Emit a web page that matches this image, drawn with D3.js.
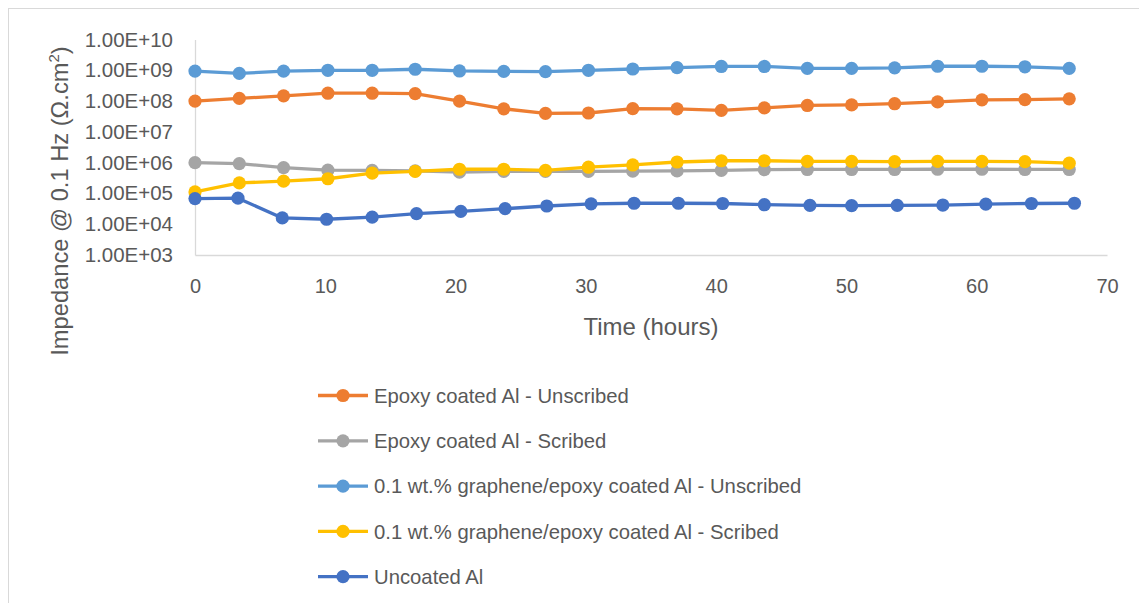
<!DOCTYPE html>
<html>
<head>
<meta charset="utf-8">
<script src="https://cdn.jsdelivr.net/npm/d3@7"></script>
<style>
  html, body { margin: 0; padding: 0; background: #ffffff; }
  svg { display: block; }
  text { font-family: "Liberation Sans", Arial, sans-serif; fill: #595959; }
</style>
</head>
<body>
<svg id="chart" width="1139" height="603"></svg>
<script>
// ---- Data ----
const seriesNames = [
  "Epoxy coated Al - Unscribed",
  "Epoxy coated Al - Scribed",
  "0.1 wt.% graphene/epoxy coated Al - Unscribed",
  "0.1 wt.% graphene/epoxy coated Al - Scribed",
  "Uncoated Al"
];
const seriesColors = ["#ED7D31", "#A5A5A5", "#5B9BD5", "#FFC000", "#4472C4"];

const timeCoated = [0, 3.4, 6.8, 10.2, 13.6, 16.9, 20.3, 23.7, 26.9, 30.2, 33.6, 37.0, 40.4, 43.7, 47.0, 50.4, 53.7, 57.0, 60.4, 63.7, 67.1];
const timeUncoated = [0, 3.3, 6.7, 10.1, 13.6, 17.0, 20.4, 23.8, 27.0, 30.4, 33.7, 37.1, 40.5, 43.7, 47.2, 50.4, 53.9, 57.4, 60.7, 64.2, 67.5];

const epoxyUnscribed = [1.0e8, 1.22e8, 1.48e8, 1.8e8, 1.8e8, 1.75e8, 1.0e8, 5.6e7, 4.0e7, 4.1e7, 5.7e7, 5.6e7, 5.0e7, 6.0e7, 7.2e7, 7.5e7, 8.2e7, 9.4e7, 1.1e8, 1.12e8, 1.18e8];
const epoxyScribed = [1.0e6, 9.3e5, 6.9e5, 5.7e5, 5.6e5, 5.4e5, 4.9e5, 5.2e5, 5.2e5, 5.2e5, 5.3e5, 5.4e5, 5.6e5, 5.9e5, 6.0e5, 6.0e5, 6.0e5, 6.1e5, 6.1e5, 6.0e5, 6.0e5];
const grapheneUnscribed = [9.4e8, 7.9e8, 9.4e8, 1.0e9, 1.0e9, 1.08e9, 9.5e8, 9.2e8, 9.0e8, 1.0e9, 1.1e9, 1.22e9, 1.33e9, 1.33e9, 1.15e9, 1.15e9, 1.2e9, 1.35e9, 1.35e9, 1.3e9, 1.15e9];
const grapheneScribed = [1.12e5, 2.2e5, 2.5e5, 3.0e5, 4.6e5, 5.2e5, 6.1e5, 6.1e5, 5.6e5, 7.1e5, 8.4e5, 1.05e6, 1.15e6, 1.15e6, 1.1e6, 1.1e6, 1.08e6, 1.1e6, 1.1e6, 1.08e6, 9.6e5];
const uncoated = [6.8e4, 7.0e4, 1.6e4, 1.45e4, 1.7e4, 2.2e4, 2.6e4, 3.2e4, 3.9e4, 4.6e4, 4.8e4, 4.8e4, 4.7e4, 4.3e4, 4.1e4, 4.0e4, 4.1e4, 4.2e4, 4.5e4, 4.7e4, 4.8e4];

const xTicks = [0, 10, 20, 30, 40, 50, 60, 70];
const yTicks = [1e3, 1e4, 1e5, 1e6, 1e7, 1e8, 1e9, 1e10];
const yTickLabels = ["1.00E+03", "1.00E+04", "1.00E+05", "1.00E+06", "1.00E+07", "1.00E+08", "1.00E+09", "1.00E+10"];
const xTitle = "Time (hours)";

// ---- Build series table ----
const seriesValues = [epoxyUnscribed, epoxyScribed, grapheneUnscribed, grapheneScribed, uncoated];
const seriesTimes = [timeCoated, timeCoated, timeCoated, timeCoated, timeUncoated];
const series = seriesNames.map((name, i) => ({
  name, color: seriesColors[i],
  points: seriesValues[i].map((v, j) => ({ t: seriesTimes[i][j], v }))
}));

// ---- Layout ----
const svg = d3.select("#chart");
const plot = { left: 195, right: 1107, top: 39.5, bottom: 255 };

const x = d3.scaleLinear().domain([0, 70]).range([plot.left, plot.right]);
const y = d3.scaleLog().domain([1e3, 1e10]).range([plot.bottom, plot.top]);

// chart frame (only top & left visible in reference)
svg.append("rect")
  .attr("x", 8.5).attr("y", 8.5).attr("width", 1400).attr("height", 900)
  .attr("fill", "none").attr("stroke", "#d9d9d9").attr("stroke-width", 1);

// axes
const xAxis = d3.axisBottom(x).tickValues(xTicks).tickSize(0).tickPadding(17).tickFormat(d3.format("d"));
const gx = svg.append("g").attr("transform", `translate(0,${plot.bottom})`).call(xAxis);
gx.select(".domain").attr("stroke", "#d9d9d9").attr("stroke-width", 1.3);
gx.selectAll("text").attr("font-size", 20).attr("fill", "#595959").attr("dy", "1.05em")
  .style("font-family", '"Liberation Sans", Arial, sans-serif');

const yAxis = d3.axisLeft(y).tickValues(yTicks).tickSize(0).tickPadding(22)
  .tickFormat((d, i) => yTickLabels[yTicks.indexOf(d)]);
const gy = svg.append("g").attr("transform", `translate(${plot.left},0)`).call(yAxis);
gy.select(".domain").attr("stroke", "#d9d9d9").attr("stroke-width", 1.3);
gy.selectAll("text").attr("font-size", 20.5).attr("fill", "#595959")
  .style("font-family", '"Liberation Sans", Arial, sans-serif');

// axis titles
svg.append("text")
  .attr("x", 651).attr("y", 335)
  .attr("text-anchor", "middle").attr("font-size", 24)
  .text(xTitle);

const yt = svg.append("text")
  .attr("transform", "translate(68,201) rotate(-90)")
  .attr("text-anchor", "middle").attr("font-size", 23.7);
yt.append("tspan").text("Impedance @ 0.1 Hz (Ω.cm");
yt.append("tspan").attr("font-size", 15).attr("dy", -9).text("2");
yt.append("tspan").attr("dy", 9).text(")");

// series
const line = d3.line().x(d => x(d.t)).y(d => y(d.v));
const gs = svg.append("g");
series.forEach(s => {
  const g = gs.append("g");
  g.append("path").datum(s.points)
    .attr("d", line).attr("fill", "none")
    .attr("stroke", s.color).attr("stroke-width", 3.3)
    .attr("stroke-linejoin", "round").attr("stroke-linecap", "round");
  g.selectAll("circle").data(s.points).join("circle")
    .attr("cx", d => x(d.t)).attr("cy", d => y(d.v)).attr("r", 6.6)
    .attr("fill", s.color);
});

// legend
const legend = svg.append("g");
const legY0 = 395.5, legStep = 45.3;
series.forEach((s, i) => {
  const gy_ = legY0 + i * legStep;
  const g = legend.append("g").attr("transform", `translate(0,${gy_})`);
  g.append("line").attr("x1", 318).attr("x2", 368).attr("y1", 0).attr("y2", 0)
    .attr("stroke", s.color).attr("stroke-width", 3.3);
  g.append("circle").attr("cx", 343).attr("cy", 0).attr("r", 6.6).attr("fill", s.color);
  g.append("text").attr("x", 374).attr("y", 0).attr("dy", "0.36em")
    .attr("font-size", 20.3).text(s.name);
});
</script>
</body>
</html>
